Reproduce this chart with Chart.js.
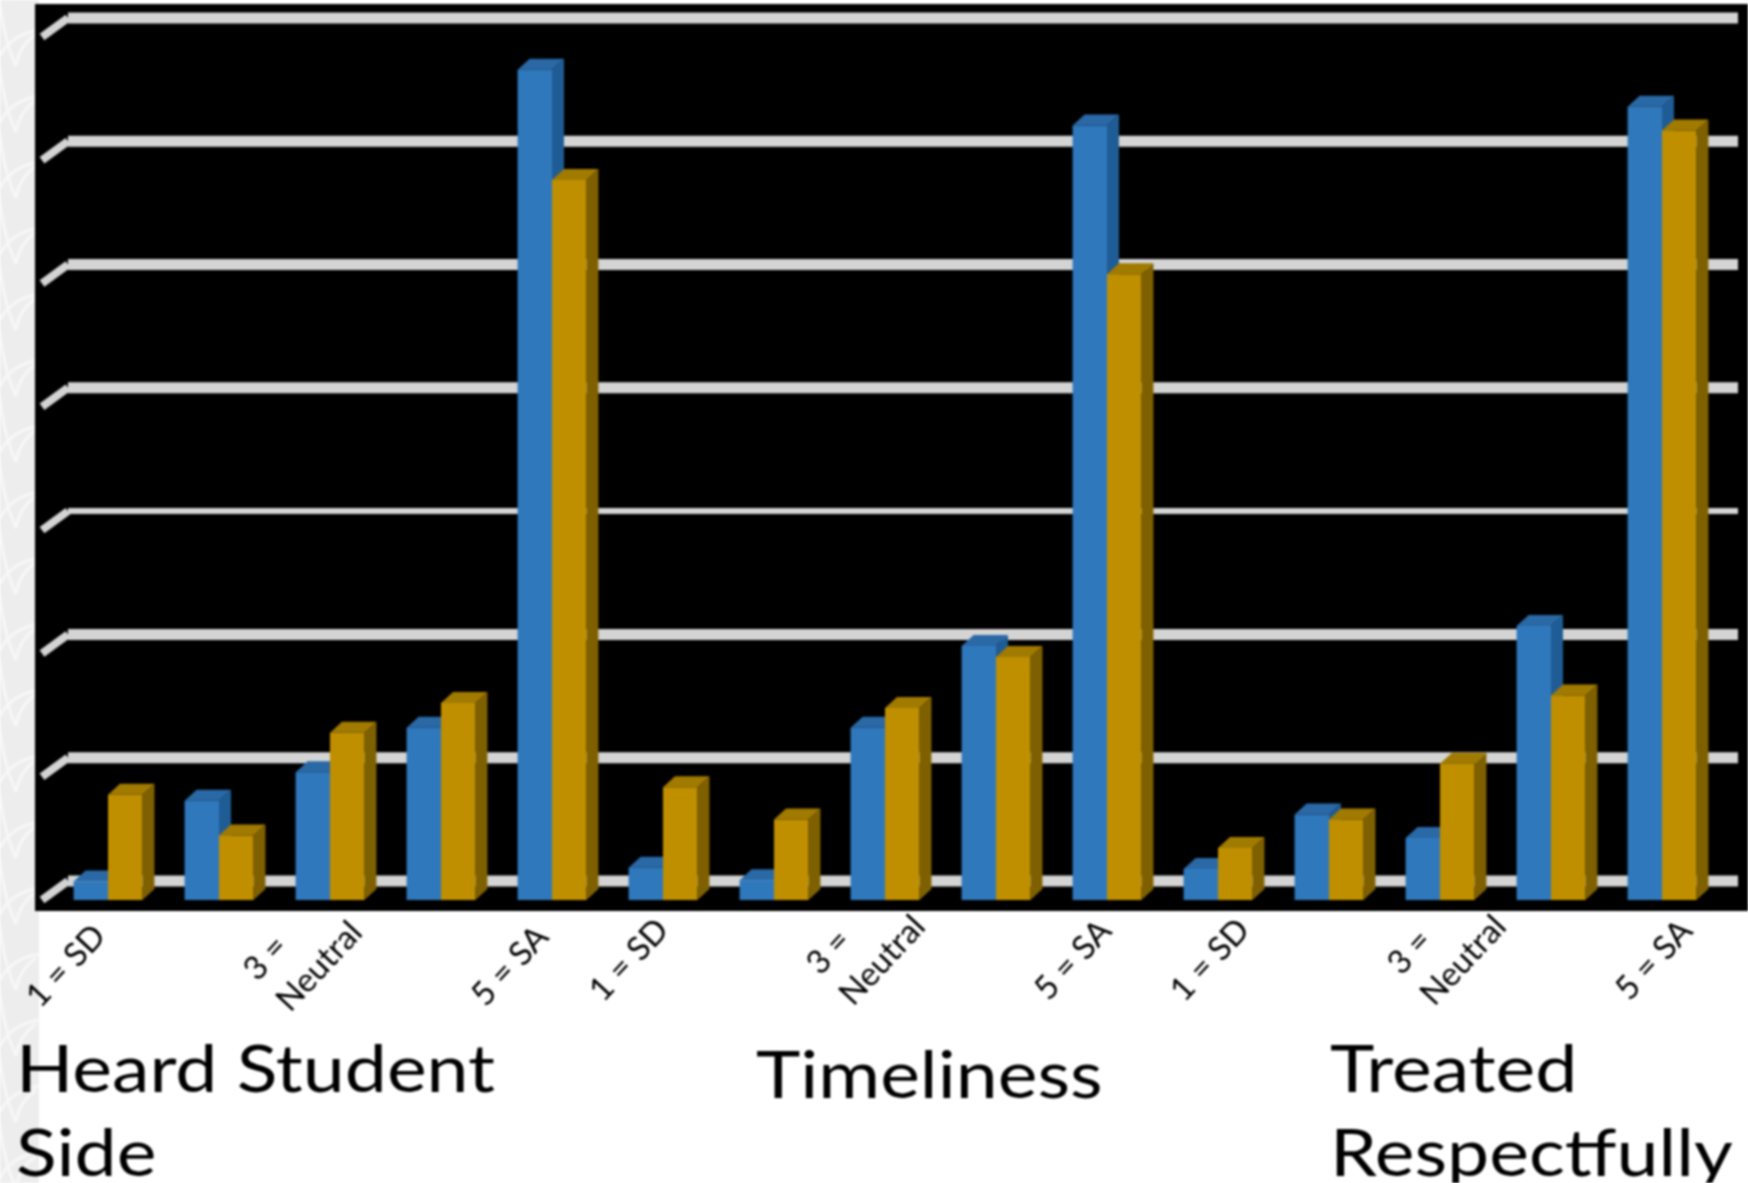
<!DOCTYPE html>
<html>
<head>
<meta charset="utf-8">
<title>Survey chart</title>
<style>
  html, body { margin: 0; padding: 0; background: #fff; overflow: hidden; }
  #chart { display: block; filter: blur(0.8px); }
</style>
<script src="https://cdn.jsdelivr.net/npm/chart.js@4/dist/chart.umd.min.js"></script>
</head>
<body>
<canvas id="chart" width="1748" height="1183"></canvas>
<script>
// x labels, one per response (only 1, 3 and 5 are labelled)
const categories = [
  "1 = SD", "", ["3 =", "Neutral"], "", "5 = SA",
  "1 = SD", "", ["3 =", "Neutral"], "", "5 = SA",
  "1 = SD", "", ["3 =", "Neutral"], "", "5 = SA"
];
const blueValues = [1.5, 8.0, 10.3, 13.9, 67.0, 2.6, 1.6, 13.9, 20.5, 62.5, 2.5, 6.9, 5.0, 22.1, 64.0];
const goldValues = [8.5, 5.2, 13.5, 15.9, 58.1, 9.1, 6.5, 15.5, 19.6, 50.5, 4.2, 6.5, 11.0, 16.5, 62.1];
const gridTicks = [0, 10, 20, 30, 40, 50, 60, 70];
const groupNames = [["Heard Student", "Side"], ["Timeliness"], ["Treated", "Respectfully"]];

const FONT = "Lato, 'Open Sans', sans-serif";
const DEPTH_X = 12;
const DEPTH_Y = 11;
const PANEL = { left: 35, top: 4, right: 1748, bottom: 911 };
// the three label sets were pasted in by hand in the original, so each sits a bit differently
const LABEL_SHIFT = [{ x: -42, y: 966 }, { x: -34, y: 960 }, { x: -8, y: 960 }];
const NAME_POS = [{ x: 16, y: 1092 }, { x: 756, y: 1098 }, { x: 1330, y: 1092 }];

function drawStrip(ctx, height) {
  ctx.fillStyle = "#ededed";
  ctx.fillRect(0, 0, 39, height);
  ctx.save();
  ctx.beginPath();
  ctx.rect(0, 0, 39, height);
  ctx.clip();
  ctx.strokeStyle = "#f7f7f7";
  ctx.lineWidth = 3;
  for (let y = -40; y < height; y += 66) {
    ctx.beginPath();
    ctx.moveTo(39, y + 4);
    ctx.quadraticCurveTo(12, y + 8, 0, y + 30);
    ctx.stroke();
    ctx.beginPath();
    ctx.moveTo(-2, y - 40);
    ctx.quadraticCurveTo(2, y + 10, 16, y + 40);
    ctx.moveTo(36, y + 8);
    ctx.quadraticCurveTo(19, y + 20, 16, y + 40);
    ctx.stroke();
  }
  ctx.restore();
}

const backdrop = {
  id: "backdrop",
  beforeDraw(chart) {
    const ctx = chart.ctx;
    ctx.save();
    ctx.fillStyle = "#fff";
    ctx.fillRect(0, 0, chart.width, chart.height);
    drawStrip(ctx, chart.height);
    ctx.fillStyle = "#000";
    ctx.fillRect(PANEL.left, PANEL.top, PANEL.right - PANEL.left, PANEL.bottom - PANEL.top);
    ctx.restore();
  }
};

// back wall lines with the little floor stub at the left of each one
const backWall = {
  id: "backWall",
  beforeDatasetsDraw(chart) {
    const ctx = chart.ctx;
    const scale = chart.scales.wall;
    ctx.save();
    ctx.strokeStyle = "#d4d4d4";
    ctx.lineJoin = "round";
    scale.ticks.forEach(t => {
      const y = scale.getPixelForValue(t.value);
      ctx.lineWidth = t.value === 30 ? 6 : 11;
      ctx.beginPath();
      ctx.moveTo(68, y);
      ctx.lineTo(1738, y);
      ctx.stroke();
      ctx.lineWidth = 8;
      ctx.beginPath();
      ctx.moveTo(42, y + 19);
      ctx.lineTo(68, y);
      ctx.stroke();
    });
    ctx.restore();
  }
};

function drawFaces(ctx, ds, meta) {
  meta.data.forEach(bar => {
    const left = bar.x - bar.width / 2;
    const right = bar.x + bar.width / 2;
    ctx.fillStyle = ds.sideColor;
    ctx.beginPath();
    ctx.moveTo(right, bar.y);
    ctx.lineTo(right + DEPTH_X, bar.y - DEPTH_Y);
    ctx.lineTo(right + DEPTH_X, bar.base - DEPTH_Y);
    ctx.lineTo(right, bar.base);
    ctx.closePath();
    ctx.fill();
    ctx.fillStyle = ds.topColor;
    ctx.beginPath();
    ctx.moveTo(left, bar.y);
    ctx.lineTo(left + DEPTH_X, bar.y - DEPTH_Y);
    ctx.lineTo(right + DEPTH_X, bar.y - DEPTH_Y);
    ctx.lineTo(right, bar.y);
    ctx.closePath();
    ctx.fill();
  });
}

// fake 3D: side and top faces worked out from the bar elements.
// gold has to land on top of blue, so it is held back until the end
const bars3d = {
  id: "bars3d",
  beforeDatasetDraw(chart, args) {
    if (args.index === 1) return false;
    drawFaces(chart.ctx, chart.data.datasets[args.index], args.meta);
  },
  afterDatasetsDraw(chart) {
    const meta = chart.getDatasetMeta(1);
    drawFaces(chart.ctx, chart.data.datasets[1], meta);
    meta.controller.draw();
  }
};

const labels = {
  id: "labels",
  afterDraw(chart) {
    const ctx = chart.ctx;
    const x = chart.scales.x;
    ctx.save();
    ctx.fillStyle = "#000";
    ctx.textBaseline = "middle";

    // response labels, slanted under their bar pair
    ctx.font = "33px " + FONT;
    categories.forEach((label, i) => {
      if (!label) return;
      const shift = LABEL_SHIFT[Math.floor(i / 5)];
      const lines = Array.isArray(label) ? label : [label];
      const wide = lines.length > 1;
      ctx.save();
      ctx.translate(x.getPixelForTick(i) + shift.x + (wide ? 15 : 0), shift.y - (wide ? 15 : 0));
      ctx.rotate(-47 * Math.PI / 180);
      const width = Math.max(...lines.map(l => ctx.measureText(l).width));
      ctx.textAlign = "left";
      lines.forEach((line, n) => {
        ctx.fillText(line, -width / 2, (n - (lines.length - 1) / 2) * 45);
      });
      ctx.restore();
    });

    // group names, the original is stretched sideways
    ctx.font = "66px " + FONT;
    ctx.textAlign = "left";
    ctx.textBaseline = "alphabetic";
    groupNames.forEach((lines, g) => {
      lines.forEach((line, n) => {
        ctx.save();
        ctx.translate(NAME_POS[g].x, NAME_POS[g].y + n * 84);
        ctx.scale(1.14, 1);
        ctx.fillText(line, 0, 0);
        ctx.restore();
      });
    });
    ctx.restore();
  }
};

new Chart(document.getElementById("chart"), {
  type: "bar",
  data: {
    labels: categories,
    datasets: [
      {
        data: blueValues,
        backgroundColor: "#2f78bc",
        sideColor: "#1f5c96",
        topColor: "#2a68a6"
      },
      {
        data: goldValues,
        backgroundColor: "#bf8f00",
        sideColor: "#7f6000",
        topColor: "#a17a00"
      }
    ]
  },
  options: {
    responsive: false,
    devicePixelRatio: 1,
    animation: false,
    layout: { padding: { left: 52.5, right: 30.5, top: 4, bottom: 0 } },
    datasets: { bar: { categoryPercentage: 0.62, barPercentage: 1 } },
    plugins: { legend: { display: false }, tooltip: { enabled: false } },
    scales: {
      x: {
        grid: { display: false },
        border: { display: false },
        afterFit: scale => { scale.height = 283; },
        ticks: { display: false, autoSkip: false }
      },
      y: { display: false, min: 0, max: 72.3 },
      // back wall sits 19px above the front of the bars
      wall: {
        display: false,
        position: "left",
        min: -1.54,
        max: 71.13,
        afterBuildTicks: scale => {
          scale.ticks = gridTicks.map(value => ({ value }));
        }
      }
    }
  },
  plugins: [backdrop, backWall, bars3d, labels]
});
</script>
</body>
</html>
